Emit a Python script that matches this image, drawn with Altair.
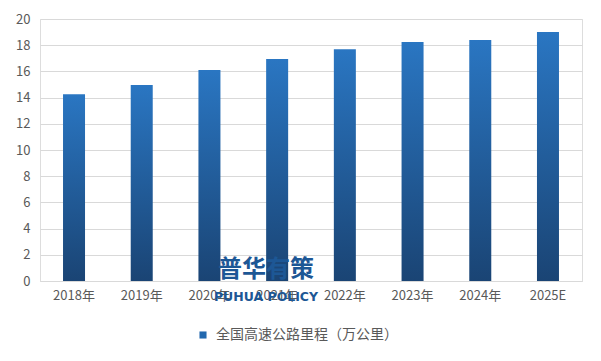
import altair as alt
import pandas as pd

years = ["2018年", "2019年", "2020年", "2021年", "2022年", "2023年", "2024年", "2025E"]
values = [14.25, 14.96, 16.1, 16.95, 17.7, 18.24, 18.4, 19.0]
series_name = "全国高速公路里程（万公里）"

df = pd.DataFrame({"year": years, "value": values, "series": [series_name] * len(years)})

FONT = "Noto Sans CJK SC"
grad = alt.LinearGradient(
    gradient="linear",
    stops=[alt.GradientStop(color="#2A76C2", offset=0), alt.GradientStop(color="#1A4474", offset=1)],
    x1=0, x2=0, y1=0, y2=1,
)

x = alt.X("year:N", sort=years, title=None,
          scale=alt.Scale(paddingInner=0.675, paddingOuter=0.34),
          axis=alt.Axis(labelAngle=0, ticks=False, domain=True, domainColor="#D9D9D9",
                        labelColor="#595959", labelFontSize=13, labelFont=FONT, labelPadding=8))
y = alt.Y("value:Q", title=None,
          scale=alt.Scale(domain=[0, 20]),
          axis=alt.Axis(values=list(range(0, 21, 2)), ticks=False, domain=False,
                        gridColor="#D9D9D9", labelColor="#595959", labelFontSize=13,
                        labelFont=FONT, labelPadding=10, minExtent=24, maxExtent=24))

bars = alt.Chart(df).mark_bar(fill=grad).encode(x=x, y=y)

legend_layer = alt.Chart(df).mark_bar(opacity=0).encode(
    x=x, y=y,
    color=alt.Color("series:N", scale=alt.Scale(range=["#2268AE"]), title=None,
                    legend=alt.Legend(orient="none", legendX=156, legendY=309,
                                      symbolType="square", symbolSize=50, symbolOpacity=1,
                                      symbolStrokeWidth=0, labelLimit=400,
                                      labelFontSize=14, labelColor="#595959", labelFont=FONT,
                                      labelOffset=6)),
)

wm1 = alt.Chart(pd.DataFrame({"t": ["普华有策"]})).mark_text(
    font=FONT, fontSize=24, fontWeight="bold", color="#1D5795", align="center", baseline="middle"
).encode(text="t:N", x=alt.value(226), y=alt.value(251))
wm2 = alt.Chart(pd.DataFrame({"t": ["PUHUA POLICY"]})).mark_text(
    font="DejaVu Sans", fontSize=12.5, fontWeight="bold", color="#1D5795", align="center", baseline="middle"
).encode(text="t:N", x=alt.value(226), y=alt.value(278))

chart = alt.layer(bars, legend_layer, wm1, wm2).properties(
    width=542, height=262,
    autosize=alt.AutoSizeParams(type="none"),
    padding={"left": 32, "top": 11, "right": 10, "bottom": 70},
).configure_view(stroke=None).configure(background="white")

chart.save("out.html", embed_options={"renderer": "svg", "actions": False})
